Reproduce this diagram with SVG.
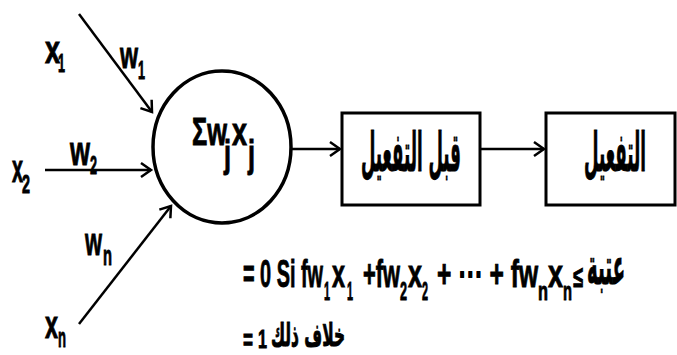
<svg xmlns="http://www.w3.org/2000/svg" width="677" height="355" viewBox="0 0 677 355">
<style>
.t{font-family:"Liberation Sans",Arial,sans-serif;font-weight:bold;fill:#000;stroke:#000;stroke-width:0.9}
.a{font-family:"DejaVu Sans","Noto Sans",sans-serif;font-weight:bold;fill:#000;stroke:#000;stroke-width:1}
.ln{stroke:#000;stroke-width:2.5;fill:none;marker-end:url(#ah)}
.bx{stroke:#000;stroke-width:3;fill:#fff}
</style>
<defs>
<marker id="ah" markerUnits="userSpaceOnUse" markerWidth="14" markerHeight="18" refX="11" refY="8" orient="auto" viewBox="0 0 14 16">
<path d="M1,1 L11,8 L1,15" fill="none" stroke="#000" stroke-width="2.5"/>
</marker>
</defs>
<rect width="677" height="355" fill="#fff"/>
<g id="connectors">
<line class="ln" x1="79" y1="14" x2="152" y2="112"/>
<line class="ln" x1="45" y1="170" x2="151" y2="170"/>
<line class="ln" x1="79" y1="324" x2="171" y2="206"/>
<line class="ln" x1="292" y1="149" x2="340" y2="149"/>
<line class="ln" x1="480" y1="149" x2="544" y2="149"/>
</g>
<g id="input-labels">
<text class="t" x="45" y="63" font-size="38" textLength="15" lengthAdjust="spacingAndGlyphs">x</text>
<text class="t" x="58" y="72" font-size="26" textLength="7" lengthAdjust="spacingAndGlyphs">1</text>
<text class="t" x="120" y="68" font-size="36" textLength="18" lengthAdjust="spacingAndGlyphs">w</text>
<text class="t" x="138" y="79" font-size="26" textLength="7" lengthAdjust="spacingAndGlyphs">1</text>
<text class="t" x="12" y="182" font-size="38" textLength="11" lengthAdjust="spacingAndGlyphs">x</text>
<text class="t" x="22" y="193" font-size="26" textLength="8" lengthAdjust="spacingAndGlyphs">2</text>
<text class="t" x="70" y="165" font-size="40" textLength="20" lengthAdjust="spacingAndGlyphs">w</text>
<text class="t" x="90" y="174" font-size="26" textLength="7" lengthAdjust="spacingAndGlyphs">2</text>
<text class="t" x="85" y="255" font-size="38" textLength="17" lengthAdjust="spacingAndGlyphs">w</text>
<text class="t" x="103" y="265" font-size="28" textLength="9" lengthAdjust="spacingAndGlyphs">n</text>
<text class="t" x="45" y="338" font-size="38" textLength="13" lengthAdjust="spacingAndGlyphs">x</text>
<text class="t" x="58" y="347" font-size="28" textLength="8" lengthAdjust="spacingAndGlyphs">n</text>
</g>
<g id="sum">
<ellipse cx="222" cy="147" rx="69" ry="76" fill="#fff" stroke="#000" stroke-width="3.5"/>
<text class="t" x="192" y="145" font-size="38" textLength="35" lengthAdjust="spacingAndGlyphs">Σw</text>
<text class="t" x="224" y="167" font-size="38" textLength="7" lengthAdjust="spacingAndGlyphs">j</text>
<text class="t" x="232" y="145" font-size="38" textLength="15" lengthAdjust="spacingAndGlyphs">x</text>
<text class="t" x="248" y="167" font-size="38" textLength="7" lengthAdjust="spacingAndGlyphs">j</text>
</g>
<g id="pre-activation">
<rect class="bx" x="342" y="113" width="138" height="92"/>
<text class="a" x="411" y="171" font-size="54" text-anchor="middle" textLength="100" lengthAdjust="spacingAndGlyphs">قبل التفعيل</text>
</g>
<g id="activation">
<rect class="bx" x="546" y="113" width="129" height="92"/>
<text class="a" x="615" y="171" font-size="54" text-anchor="middle" textLength="62" lengthAdjust="spacingAndGlyphs">التفعيل</text>
</g>
<g id="formula">
<text class="t" x="243" y="287" font-size="38" textLength="80" lengthAdjust="spacingAndGlyphs">= 0 Si fw</text>
<text class="t" x="324" y="300" font-size="26" textLength="6" lengthAdjust="spacingAndGlyphs">1</text>
<text class="t" x="332" y="287" font-size="38" textLength="13" lengthAdjust="spacingAndGlyphs">x</text>
<text class="t" x="347" y="300" font-size="26" textLength="6" lengthAdjust="spacingAndGlyphs">1</text>
<text class="t" x="363" y="287" font-size="38" textLength="37" lengthAdjust="spacingAndGlyphs">+fw</text>
<text class="t" x="400" y="300" font-size="26" textLength="7" lengthAdjust="spacingAndGlyphs">2</text>
<text class="t" x="408" y="287" font-size="38" textLength="14" lengthAdjust="spacingAndGlyphs">x</text>
<text class="t" x="422" y="300" font-size="26" textLength="6" lengthAdjust="spacingAndGlyphs">2</text>
<text class="t" x="437" y="287" font-size="38" textLength="101" lengthAdjust="spacingAndGlyphs">+ ⋯ + fw</text>
<text class="t" x="538" y="300" font-size="26" textLength="10" lengthAdjust="spacingAndGlyphs">n</text>
<text class="t" x="548" y="287" font-size="38" textLength="15" lengthAdjust="spacingAndGlyphs">x</text>
<text class="t" x="563" y="300" font-size="26" textLength="9" lengthAdjust="spacingAndGlyphs">n</text>
<text class="t" x="573" y="287" font-size="30" textLength="10" lengthAdjust="spacingAndGlyphs">≤</text>
<text class="a" x="606" y="284" font-size="50" text-anchor="middle" textLength="38" lengthAdjust="spacingAndGlyphs">عتبة</text>
<text class="t" x="243" y="350" font-size="30" textLength="10" lengthAdjust="spacingAndGlyphs">=</text>
<text class="t" x="258" y="348" font-size="26" textLength="9" lengthAdjust="spacingAndGlyphs">1</text>
<text class="a" x="308" y="346" font-size="32" text-anchor="middle" textLength="74" lengthAdjust="spacingAndGlyphs">خلاف ذلك</text>
</g>
</svg>
